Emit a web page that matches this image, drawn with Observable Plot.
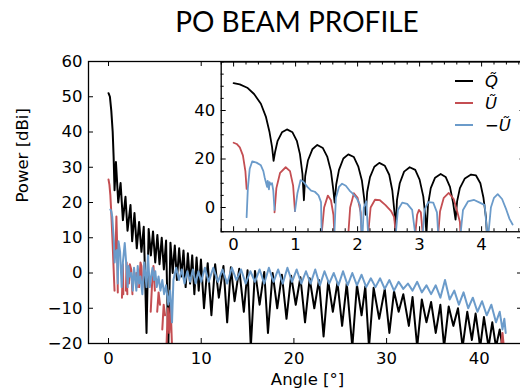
<!DOCTYPE html>
<html><head><meta charset="utf-8">
<script src="https://cdn.jsdelivr.net/npm/d3@7"></script>
<script src="https://cdn.jsdelivr.net/npm/@observablehq/plot@0.6"></script>
<style>
body{margin:0;background:#fff;}
#wrap{position:relative;width:520px;height:390px;overflow:hidden;background:#fff;font-family:"DejaVu Sans",sans-serif;}
#wrap svg{position:absolute;left:0;top:0;max-width:none;overflow:visible;background:transparent;}
#title{position:absolute;left:0;width:594px;top:4px;text-align:center;font-family:Lato,sans-serif;font-size:28px;color:#000;}
#legend{position:absolute;left:455px;top:70px;font-family:"DejaVu Sans";font-size:16.5px;font-style:italic;}
#legend .row{height:22px;display:flex;align-items:center;}
#legend .sw{width:18px;height:0;border-top:2px solid;margin-right:12px;}
</style></head><body><div id="wrap"><div id="title">PO BEAM PROFILE</div></div>
<script>
// ---------------- data ----------------
const seriesNames = ["Q\u0303", "U\u0303", "\u2212U\u0303"];
const seriesColors = ["#000000", "#c44e52", "#6b9bca"];
const xLabel = "Angle [°]";
const yLabel = "Power [dBi]";

// tick values
const mainXTicks = [0, 10, 20, 30, 40];
const mainYTicks = [-20, -10, 0, 10, 20, 30, 40, 50, 60];
const insetXTicks = [0, 1, 2, 3, 4];
const insetXMinor = [-0.2, 0.2, 0.4, 0.6, 0.8, 1.2, 1.4, 1.6, 1.8, 2.2, 2.4, 2.6, 2.8, 3.2, 3.4, 3.6, 3.8, 4.2, 4.4, 4.6];
const insetYTicks = [0, 20, 40];
const insetYMinor = [-10, -5, 5, 10, 15, 25, 30, 35, 45, 50, 55, 60];

// ---- inset (finely sampled, 0 - 4.5 deg) ----
const qNear = [
  [0,51.3],[0.1,50.8],[0.22,49.4],[0.33,46.8],[0.44,42.8],[0.52,37.5],[0.58,31],[0.62,25],[0.645,19.2],
  [0.67,23],[0.71,27.5],[0.78,31],[0.86,32.2],[0.95,31],[1.02,27.5],[1.07,22],[1.11,14],[1.134,3],
  [1.155,13],[1.2,19.5],[1.27,24],[1.35,25.8],[1.44,24.5],[1.51,21],[1.57,15],[1.605,8],[1.63,2],
  [1.655,9.5],[1.7,15.5],[1.77,20.2],[1.85,21.9],[1.94,20.8],[2.01,17],[2.07,11],[2.105,4],[2.13,-3],
  [2.155,6.5],[2.2,12.5],[2.27,16.8],[2.35,18.4],[2.44,17.2],[2.51,13.5],[2.56,7],[2.595,-2],[2.61,-11],
  [2.635,3],[2.68,10],[2.75,14.8],[2.84,16.6],[2.93,15.5],[3.0,11.5],[3.06,4.5],[3.09,-3],[3.11,-11],
  [3.135,1],[3.18,8],[3.25,12.3],[3.34,13.8],[3.42,12.6],[3.49,8.5],[3.54,2],[3.58,-5],
  [3.605,2.5],[3.65,8],[3.73,12],[3.83,13.6],[3.91,13.2],[3.98,10],[4.03,4],[4.07,-4],[4.1,-17]
];
const uNear = [
  [0,26.7],[0.05,26.2],[0.1,24.8],[0.15,21.5],[0.19,15],[0.21,7.7], null,
  [0.66,-2],[0.69,8],[0.75,14.3],[0.84,16.6],[0.91,15],[0.96,9],[0.99,-1.5], null,
  [1.42,-11],[1.46,0],[1.52,4.9],[1.57,3],[1.61,-3],[1.625,-11], null,
  [1.85,-11],[1.88,0],[1.94,5.9],[2.0,4],[2.05,-2],[2.065,-11], null,
  [2.17,-11],[2.21,0],[2.28,3.2],[2.36,3],[2.45,1],[2.54,-1.5],[2.59,-4],[2.615,-11], null,
  [2.93,-11],[2.96,-3],[2.99,-1],[3.02,-2],[3.05,-11], null,
  [3.3,-11],[3.33,-1.5],[3.39,4],[3.47,6],[3.55,3.5],[3.61,-2],[3.65,-6],[3.66,-11]
];
const nuNear = [
  [0.21,-4],[0.23,8],[0.26,16],[0.3,19],[0.37,18.5],[0.44,17.4],[0.48,15],[0.5,12.5],[0.52,10.5],[0.54,8.5],
  [0.55,11],[0.57,7.5],[0.58,10.5],[0.6,9.5],[0.62,10],[0.64,7],[0.66,-1], null,
  [0.99,-1.5],[1.03,6],[1.08,11.3],[1.13,10.5],[1.19,8.5],[1.25,7],[1.31,6.5],[1.37,5],[1.41,2.2],[1.42,-11], null,
  [1.625,-11],[1.65,4],[1.7,8.5],[1.75,9.8],[1.81,9],[1.87,7],[1.93,5.5],[1.99,3.6],[2.04,1],[2.065,-11], null,
  [2.08,-11],[2.1,0],[2.14,2.5],[2.17,-11], null,
  [2.615,-11],[2.65,-1],[2.72,2],[2.8,1.5],[2.88,-1],[2.93,-11], null,
  [3.05,-11],[3.08,-1],[3.14,2.2],[3.22,2],[3.28,-2],[3.3,-11], null,
  [3.66,-11],[3.7,-1],[3.78,2.5],[3.88,3.1],[3.97,2],[4.05,1],[4.09,-11],
  [4.11,-11],[4.15,0],[4.2,4],[4.26,5.5],[4.33,3.5],[4.4,-1],[4.45,-4.7],[4.5,-7]
];

// ---- main panel (coarser sampling, 0 - 43 deg) ----
const qMainPts = [
  [0,51],[0.15,50],[0.3,46],[0.45,40],[0.55,33],[0.65,23.5],[0.8,31.5],[1.05,20],[1.3,25.5],[1.55,15],
  [1.83,21.6],[2.05,12],[2.37,19.3],[2.55,9],[2.8,17],[3.05,7],[3.3,14.5],[3.55,6],[3.8,13.1],[4.1,-17],
  [4.33,12.5],[4.57,5],[4.8,11.8],[5.04,3],[5.27,10.8],[5.5,2.5],[5.74,10],[5.97,1],[6.21,9.2],[6.45,-21],
  [6.68,8.6],[6.92,0],[7.15,7.8],[7.38,-2],[7.62,7],[7.85,-1],[8.09,6.4],[8.32,-4],[8.56,5.6],[8.8,-3],
  [9.03,5],[9.26,-6],[9.5,4.4],[9.73,-5],[9.97,3.8],[10.3,-10],[10.7,2.8],[11.1,-12],[11.5,2.5],[11.9,-7],
  [12.4,2],[12.8,-14],[13.2,1.6],[13.6,-8],[14.1,1.2],[14.6,-11],[15.0,0.8],[15.35,-21],[15.8,0.6],[16.3,-9],
  [16.8,0.3],[17.2,-17],[17.7,0],[18.2,-10],[18.7,-0.5],[19.2,-13],[19.7,-0.8],[20.2,-9],[20.7,-1.2],[21.2,-14],
  [21.7,-1.5],[22.2,-10],[22.7,-2],[23.2,-18],[23.7,-2.3],[24.2,-11],[24.7,-2.7],[25.2,-15],[25.7,-3],[26.3,-21],
  [26.8,-3.4],[27.3,-12],[27.7,-3.8],[28.1,-21],[28.6,-4.2],[29.2,-13],[29.8,-4.6],[30.3,-17],[30.8,-5.2],[31.3,-11],
  [31.8,-6],[32.4,-15],[32.8,-6.8],[33.3,-21],[33.8,-7.5],[34.3,-14],[34.8,-8.2],[35.3,-17],[35.8,-9],[36.2,-21],
  [36.7,-9.5],[37.2,-15],[37.7,-10],[38.2,-21],[38.7,-11],[39.2,-19],[39.6,-11.5],[40.1,-21],[40.5,-12.5],[41.0,-21],
  [41.4,-14],[41.8,-21],[42.2,-16],[42.5,-21]
];
const uMainPts = [
  [0,26.5],[0.1,25],[0.2,22],[0.3,17],[0.45,8],[0.6,-2],[0.65,-5], null,
  [0.75,5],[0.85,16],[0.95,6],[1.0,-5.5], null,
  [1.45,-7],[1.55,2.5],[1.6,-6], null,
  [1.88,-5],[1.95,3],[2.03,-6], null,
  [2.2,-3],[2.3,2.5],[2.45,1],[2.58,-6], null,
  [2.95,-3],[3.0,0],[3.05,-4], null,
  [3.3,-4],[3.45,3],[3.55,2],[3.65,-4], null,
  [4.55,-11],[4.7,-3],[4.85,2],[5.0,-5], null,
  [5.25,-11],[5.4,-5.5],[5.55,-9], null,
  [5.8,-16],[5.95,-9],[6.1,-12], null,
  [6.25,-21],[6.4,-10],[6.55,-17],[6.7,-9],[6.85,-21], null,
  [42.35,-21],[42.5,-17],[42.65,-21]
];
const nuMainPts = [
  [0.2,18],[0.3,17.5],[0.4,16],[0.5,12],[0.58,9],[0.66,3],[0.75,6],[0.9,6.5],[1.0,-3],[1.08,9],
  [1.25,6],[1.42,-4],[1.55,3],[1.75,8.5],[1.9,3],[2.07,-4],[2.15,2],[2.3,-1],[2.45,0],[2.62,-5],
  [2.75,1.5],[2.9,-2],[3.0,-5],[3.15,2],[3.3,-3],[3.45,-1],[3.65,-6],[3.85,3],[4.1,-4],[4.26,5],
  [4.45,-4],[4.6,-1],[4.75,1.5],[4.9,-2],[5.05,0.5],[5.2,-4],[5.4,-1],[5.6,-5],[5.8,-2],[6.0,-6],
  [6.2,-3.5],[6.45,-9],[6.65,-5],[6.85,-14],[7.0,-2],[7.3,1.5],[7.6,-2],[7.9,1],[8.2,-3],[8.5,0.5],
  [8.8,-2.5],[9.1,1],[9.4,-3],[9.7,0.5],[10.0,-2.5],[10.4,1.5],[10.8,-2.5],[11.3,1.5],[11.8,-2.5],[12.3,1],
  [12.8,-3],[13.3,1.5],[13.8,-2],[14.3,1],[14.8,-3],[15.3,0.5],[15.8,-2.5],[16.3,1],[16.8,-3],[17.3,1.5],
  [17.8,-2.5],[18.3,1],[18.8,-3],[19.3,1.5],[19.8,-2.5],[20.3,1],[20.8,-3],[21.3,0.5],[21.8,-3],[22.3,1],
  [22.8,-3.5],[23.3,0.5],[23.8,-3],[24.3,0],[24.8,-3.5],[25.3,0.5],[25.8,-3.5],[26.3,0],[26.8,-3.5],[27.3,-0.5],
  [27.8,-4],[28.3,-1.5],[28.8,-4],[29.3,-1.5],[29.8,-4.5],[30.3,-2],[30.8,-5],[31.3,-2.5],[31.8,-4.5],[32.3,-3],
  [32.8,-5],[33.3,-2.5],[33.8,-5.5],[34.3,-3.5],[34.8,-6],[35.3,-3.5],[35.8,-7],[36.3,-2],[36.8,-7.5],[37.3,-5],
  [37.8,-9],[38.3,-5.5],[38.8,-10],[39.3,-7],[39.8,-11],[40.3,-8],[40.8,-12],[41.3,-9],[41.8,-14],[42.2,-11],
  [42.5,-16],[42.7,-13],[42.85,-17]
];

// ---------------- helpers ----------------
const rows = (pairs) => pairs.map(p => p ? {x: p[0], y: p[1]} : {x: NaN, y: NaN});
const minus = d => d < 0 ? "\u2212" + (-d) : String(d);

function inTicks(xT, yT, fw, fh, len) {
  return [
    Plot.tickX(xT, {x: d => d, insetTop: fh - len, stroke: "#000", strokeWidth: 1}),
    Plot.tickX(xT, {x: d => d, insetBottom: fh - len, stroke: "#000", strokeWidth: 1}),
    Plot.tickY(yT, {y: d => d, insetRight: fw - len, stroke: "#000", strokeWidth: 1}),
    Plot.tickY(yT, {y: d => d, insetLeft: fw - len, stroke: "#000", strokeWidth: 1})
  ];
}

const wrap = document.getElementById("wrap");

// ---------------- main panel ----------------
const MW = 523, MH = 390, mL = 88, mR = 1, mT = 61, mB = 47;
const main = Plot.plot({
  width: MW, height: MH, marginLeft: mL, marginRight: mR, marginTop: mT, marginBottom: mB,
  style: {fontFamily: "DejaVu Sans", fontSize: "16.5px", color: "#000", background: "transparent"},
  x: {domain: [-2.16, 44.66]},
  y: {domain: [-20, 60]},
  marks: [
    Plot.line(rows(qMainPts), {x: "x", y: "y", stroke: seriesColors[0], strokeWidth: 2, clip: true}),
    Plot.line(rows(uMainPts), {x: "x", y: "y", stroke: seriesColors[1], strokeWidth: 2, clip: true}),
    Plot.line(rows(nuMainPts), {x: "x", y: "y", stroke: seriesColors[2], strokeWidth: 2, clip: true}),
    ...inTicks(mainXTicks, mainYTicks, MW - mL - mR, MH - mT - mB, 5),
    Plot.frame({stroke: "#000", strokeWidth: 1.3}),
    Plot.axisX({ticks: mainXTicks, tickSize: 0, tickPadding: 9, label: null}),
    Plot.axisY({ticks: mainYTicks, tickSize: 0, tickPadding: 6, tickFormat: minus, label: null}),
    Plot.text([xLabel], {text: d => d, frameAnchor: "bottom", dx: 2, dy: 36, lineAnchor: "middle", fontSize: 16.5}),
    Plot.text([yLabel], {text: d => d, frameAnchor: "left", dx: -66, rotate: -90, lineAnchor: "middle", fontSize: 16.5})
  ]
});
wrap.appendChild(main);

// ---------------- inset panel ----------------
const IW = 530, IH = 390, iL = 220.7, iR = 5.5, iT = 61.5, iB = 158.75;
const inset = Plot.plot({
  width: IW, height: IH, marginLeft: iL, marginRight: iR, marginTop: iT, marginBottom: iB,
  style: {fontFamily: "DejaVu Sans", fontSize: "16.5px", color: "#000", background: "transparent"},
  x: {domain: [-0.2, 4.7]},
  y: {domain: [-10, 60]},
  marks: [
    Plot.frame({fill: "#fff", stroke: null}),
    Plot.line(rows(qNear), {x: "x", y: "y", stroke: seriesColors[0], strokeWidth: 1.8, clip: true}),
    Plot.line(rows(uNear), {x: "x", y: "y", stroke: seriesColors[1], strokeWidth: 1.8, clip: true}),
    Plot.line(rows(nuNear), {x: "x", y: "y", stroke: seriesColors[2], strokeWidth: 1.8, clip: true}),
    ...inTicks(insetXTicks, insetYTicks, IW - iL - iR, IH - iT - iB, 5),
    ...inTicks(insetXMinor, insetYMinor, IW - iL - iR, IH - iT - iB, 3),
    Plot.frame({stroke: "#000", strokeWidth: 1.3}),
    Plot.axisX({ticks: insetXTicks, tickSize: 0, tickPadding: 7, tickFormat: d => String(d), label: null}),
    Plot.axisY({ticks: insetYTicks, tickSize: 0, tickPadding: 6, tickFormat: d => String(d), label: null})
  ]
});
wrap.appendChild(inset);

// ---------------- legend ----------------
const lg = document.createElement("div");
lg.id = "legend";
seriesNames.forEach((n, i) => {
  const r = document.createElement("div"); r.className = "row";
  const s = document.createElement("div"); s.className = "sw"; s.style.borderColor = seriesColors[i];
  const t = document.createElement("span"); t.textContent = n;
  r.appendChild(s); r.appendChild(t); lg.appendChild(r);
});
wrap.appendChild(lg);
</script></body></html>
